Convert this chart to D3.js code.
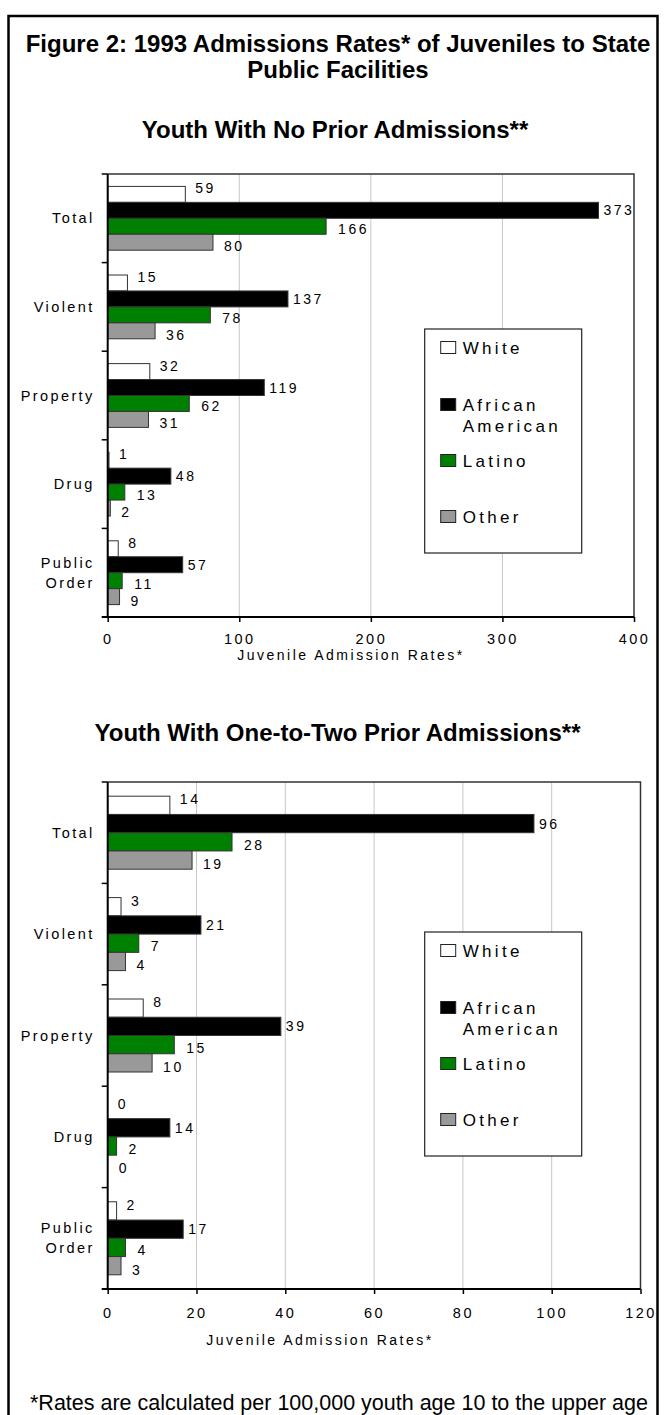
<!DOCTYPE html>
<html>
<head>
<meta charset="utf-8">
<script src="https://cdn.jsdelivr.net/npm/d3@7"></script>
<style>
  body { margin: 0; background: #fff; }
  svg { display: block; font-family: "Liberation Sans", Arial, sans-serif; }
</style>
</head>
<body>
<div id="figure"></div>
<script>
const categories = ["Total", "Violent", "Property", "Drug", "Public Order"];
const series = ["White", "African American", "Latino", "Other"];
const seriesColors = ["#ffffff", "#000000", "#008000", "#999999"];

// Youth with no prior admissions
const noPriorWhite = [59, 15, 32, 1, 8];
const noPriorAfrican = [373, 137, 119, 48, 57];
const noPriorLatino = [166, 78, 62, 13, 11];
const noPriorOther = [80, 36, 31, 2, 9];
const noPriorTicks = [0, 100, 200, 300, 400];

// Youth with one-to-two prior admissions
const priorWhite = [14, 3, 8, 0, 2];
const priorAfrican = [96, 21, 39, 14, 17];
const priorLatino = [28, 7, 15, 2, 4];
const priorOther = [19, 4, 10, 0, 3];
const priorTicks = [0, 20, 40, 60, 80, 100, 120];

const W = 666, H = 1415;

const svg = d3.select("#figure")
  .append("svg")
  .attr("width", W)
  .attr("height", H);

// outer frame of the figure
svg.append("rect")
  .attr("x", 8.5)
  .attr("y", 16)
  .attr("width", 649)
  .attr("height", 1430)
  .attr("fill", "none")
  .attr("stroke", "#000")
  .attr("stroke-width", 2.5);

svg.append("text")
  .attr("x", 338)
  .attr("y", 52)
  .attr("text-anchor", "middle")
  .style("font-size", "24px")
  .style("font-weight", "bold")
  .text("Figure 2: 1993 Admissions Rates* of Juveniles to State");
svg.append("text")
  .attr("x", 338)
  .attr("y", 78)
  .attr("text-anchor", "middle")
  .style("font-size", "24px")
  .style("font-weight", "bold")
  .text("Public Facilities");

// label nudges per series (white, black, green, gray)
const labelDx = [10, 5, 12, 11];
const labelDy = [-6, 0, 3, 4];

function drawChart(cfg) {
  const x = d3.scaleLinear()
    .domain([0, d3.max(cfg.ticks)])
    .range([cfg.left, cfg.right]);

  const y = d3.scaleBand()
    .domain(categories)
    .range([cfg.top, cfg.bottom])
    .paddingInner(0.28)
    .paddingOuter(0.14);

  const ySeries = d3.scaleBand()
    .domain(series)
    .range([0, y.bandwidth()]);

  const rows = categories.map((c, i) => ({
    category: c,
    values: cfg.values.map((arr, j) => ({ s: j, value: arr[i] }))
  }));

  // subtitle
  svg.append("text")
    .attr("x", cfg.titleX)
    .attr("y", cfg.titleY)
    .attr("text-anchor", "middle")
    .style("font-size", "24px")
    .style("font-weight", "bold")
    .text(cfg.title);

  // gridlines
  svg.append("g")
    .selectAll("line")
    .data(cfg.ticks.slice(1, -1))
    .join("line")
    .attr("x1", d => x(d))
    .attr("x2", d => x(d))
    .attr("y1", cfg.top)
    .attr("y2", cfg.bottom)
    .attr("stroke", "#c8c8c8")
    .attr("stroke-width", 1);

  // top and right frame
  svg.append("path")
    .attr("d", `M${cfg.left},${cfg.top}H${cfg.right}V${cfg.bottom}`)
    .attr("fill", "none")
    .attr("stroke", "#333")
    .attr("stroke-width", 1.5);

  const groups = svg.append("g")
    .selectAll("g")
    .data(rows)
    .join("g")
    .attr("transform", d => `translate(0,${y(d.category)})`);

  groups.selectAll("rect")
    .data(d => d.values)
    .join("rect")
    .attr("x", x(0))
    .attr("y", d => ySeries(series[d.s]))
    .attr("width", d => x(d.value) - x(0))
    .attr("height", ySeries.bandwidth())
    .attr("fill", d => seriesColors[d.s])
    .attr("stroke", "#333")
    .attr("stroke-width", 1);

  groups.selectAll("text")
    .data(d => d.values)
    .join("text")
    .attr("x", d => x(d.value) + labelDx[d.s])
    .attr("y", d => ySeries(series[d.s]) + ySeries.bandwidth() / 2 + labelDy[d.s] + 5)
    .style("font-size", "14px")
    .style("letter-spacing", "2.5px")
    .text(d => d.value);

  // left axis with ticks between categories
  svg.append("line")
    .attr("x1", x(0)).attr("x2", x(0))
    .attr("y1", cfg.top).attr("y2", cfg.bottom)
    .attr("stroke", "#000")
    .attr("stroke-width", 2);
  svg.append("g")
    .selectAll("line")
    .data(d3.range(categories.length))
    .join("line")
    .attr("x1", x(0) - 6).attr("x2", x(0))
    .attr("y1", i => cfg.top + i * y.step())
    .attr("y2", i => cfg.top + i * y.step())
    .attr("stroke", "#000")
    .attr("stroke-width", 1.5);

  // category labels
  svg.append("g")
    .selectAll("text")
    .data(categories)
    .join("text")
    .attr("text-anchor", "end")
    .attr("x", x(0) - 13)
    .attr("y", d => y(d) + y.bandwidth() / 2 + 5)
    .style("font-size", "14.5px")
    .style("letter-spacing", "2.4px")
    .each(function (d) {
      const parts = d.split(" ");
      const t = d3.select(this);
      if (parts.length == 1) { t.text(d); return; }
      parts.forEach((p, k) => {
        t.append("tspan")
          .attr("x", x(0) - 13)
          .attr("dy", k == 0 ? -10 : 20)
          .text(p);
      });
    });

  // Add the x-axis.
  const xAxis = svg.append("g")
    .attr("transform", `translate(0,${cfg.bottom})`)
    .call(d3.axisBottom(x).tickValues(cfg.ticks).tickSize(5).tickSizeOuter(0).tickPadding(cfg.tickPad));
  xAxis.select(".domain").remove();
  xAxis.selectAll(".tick line").attr("stroke", "#000").attr("stroke-width", 1.5);
  xAxis.selectAll(".tick text")
    .attr("fill", "#000")
    .style("font-family", "'Liberation Sans', Arial, sans-serif")
    .style("font-size", "14.5px")
    .style("letter-spacing", "2.5px");
  svg.append("line")
    .attr("x1", x(0) - 6).attr("x2", cfg.right)
    .attr("y1", cfg.bottom).attr("y2", cfg.bottom)
    .attr("stroke", "#000")
    .attr("stroke-width", 2);

  svg.append("text")
    .attr("x", cfg.axisTitleX)
    .attr("y", cfg.bottom + cfg.axisTitleDy)
    .attr("text-anchor", "middle")
    .style("font-size", "14px")
    .style("letter-spacing", "2.5px")
    .text("Juvenile Admission Rates*");

  // legend
  const lx = cfg.left + 317, ly = cfg.top + cfg.legendTop;
  svg.append("rect")
    .attr("x", lx).attr("y", ly)
    .attr("width", 157).attr("height", 224)
    .attr("fill", "#fff")
    .attr("stroke", "#222")
    .attr("stroke-width", 1.2);
  const rowY = [18.5, 75.5, 131.5, 187.5];
  const items = svg.append("g")
    .selectAll("g")
    .data(series)
    .join("g")
    .attr("transform", (d, i) => `translate(${lx},${ly + rowY[i]})`);
  items.append("rect")
    .attr("x", 16).attr("y", -6)
    .attr("width", 15).attr("height", 12)
    .attr("fill", (d, i) => seriesColors[i])
    .attr("stroke", "#222")
    .attr("stroke-width", 1);
  items.append("text")
    .attr("x", 38)
    .attr("y", 6)
    .style("font-size", "17px")
    .style("letter-spacing", "3.3px")
    .each(function (d) {
      const parts = d == "African American" ? ["African", "American"] : [d];
      parts.forEach((p, k) => {
        d3.select(this).append("tspan")
          .attr("x", 38)
          .attr("dy", k == 0 ? 0 : 21)
          .text(p);
      });
    });
}

drawChart({
  title: "Youth With No Prior Admissions**",
  titleX: 335, titleY: 138,
  values: [noPriorWhite, noPriorAfrican, noPriorLatino, noPriorOther],
  ticks: noPriorTicks,
  left: 107.7, right: 634, top: 174, bottom: 617,
  tickPad: 12, axisTitleX: 351, axisTitleDy: 43,
  legendTop: 155
});

drawChart({
  title: "Youth With One-to-Two Prior Admissions**",
  titleX: 337.5, titleY: 741,
  values: [priorWhite, priorAfrican, priorLatino, priorOther],
  ticks: priorTicks,
  left: 107.7, right: 640.5, top: 782, bottom: 1289,
  tickPad: 14, axisTitleX: 320, axisTitleDy: 56,
  legendTop: 150
});

// footnote
svg.append("text")
  .attr("x", 30)
  .attr("y", 1410)
  .style("font-size", "21.5px")
  .text("*Rates are calculated per 100,000 youth age 10 to the upper age");
</script>
</body>
</html>
